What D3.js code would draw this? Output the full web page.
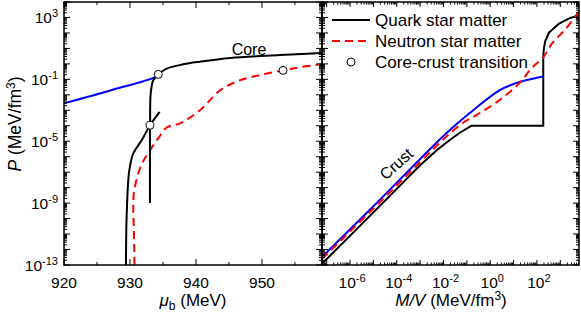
<!DOCTYPE html>
<html>
<head>
<meta charset="utf-8">
<script src="https://cdn.jsdelivr.net/npm/d3@7"></script>
<style>
  body { margin: 0; background: #fff; }
  svg { display: block; font-family: "Liberation Sans", Arial, sans-serif; }
  .curve { fill: none; stroke-width: 2; }
</style>
</head>
<body>
<svg id="chart" width="581" height="317"></svg>
<script>
//-----------------------------------------------------//

// Left panel: P vs baryon chemical potential (log10 P stored)
const muBlue = [920, 927, 933.8, 934.29];
const logPBlue = [-2.55, -1.72, -0.85, -0.68];

const muQsCore = [933.03, 933.03, 933.05, 933.14, 933.53, 934.29, 935.56, 938.08, 940.6, 945.2, 952.7, 959.1];
const logPQsCore = [-9.0, -5.0, -3.97, -1.92, -1.06, -0.68, -0.31, -0.03, 0.14, 0.38, 0.57, 0.71];

const muQsSteep = [929.39, 929.45, 929.55, 929.65, 929.9, 930.5, 931.77, 933.03, 934.5];
const logPQsSteep = [-13, -10.5, -9.2, -8.16, -6.87, -5.79, -4.94, -3.97, -3.1];

const muNs = [930.68, 930.6, 930.5, 930.6, 931.26, 932.0, 933.03, 934.3, 935.6, 937.58, 940.6, 943.64, 946.67, 950, 953.2, 956, 959.1];
const logPNs = [-13, -11, -9.3, -8.3, -7.08, -6.3, -5.58, -4.8, -4.10, -3.84, -3.0, -1.71, -1.06, -0.7, -0.42, -0.2, -0.03];

const muTransition = [934.29, 933.03, 953.2];
const logPTransition = [-0.68, -3.97, -0.42];

// Right panel: P vs M/V (log10 of both stored)
const lxQs = [-7.2, -5, -3, -2.29, -1.8, -1.3, -0.8, 2.27, 2.27, 2.29, 2.35, 2.52, 2.95, 3.38, 3.8];
const lpQs = [-12.92, -9.6, -6.55, -5.58, -5.0, -4.45, -4.0, -4.0, 0.3, 0.9, 1.45, 2.03, 2.61, 2.94, 3.15];

const lxBlue = [-7.2, -5, -3, -1.88, -0.89, 0.39, 1.0, 1.53, 2.0, 2.27];
const lpBlue = [-12.48, -9.2, -6.15, -4.48, -3.19, -1.71, -1.3, -1.06, -0.9, -0.81];

const lxNs = [-7.2, -5, -3, -1.88, -1.19, -0.46, 0.39, 1.24, 1.80, 2.27, 2.65, 3.25, 3.8];
const lpNs = [-12.6, -9.35, -6.35, -4.7, -3.84, -3.19, -2.35, -1.26, -0.23, 0.42, 1.32, 2.29, 3.4];

// Tick labels
const muTicks = [920, 930, 940, 950];
const pLabelExps = [-13, -9, -5, -1, 3];
const mvLabelExps = [-6, -4, -2, 0, 2];
const legendLabels = ["Quark star matter", "Neutron star matter", "Core-crust transition"];

//-----------------------------------------------------//

const svg = d3.select("#chart");
const plotTop = 2, plotBottom = 265;
const leftX0 = 64, midX = 322, rightX1 = 579;

let y = d3.scaleLog().domain([1e-13, 1e4]).range([plotBottom, plotTop]);
let xMu = d3.scaleLinear().domain([920, 959.1]).range([leftX0, midX]);
let xMv = d3.scaleLog().domain([Math.pow(10, -7.2), Math.pow(10, 3.8)]).range([midX, rightX1]);

const pow10 = v => Math.pow(10, v);

// clip each panel
const defs = svg.append("defs");
defs.append("clipPath").attr("id", "clipL").append("rect")
  .attr("x", leftX0).attr("y", plotTop).attr("width", midX - leftX0).attr("height", plotBottom - plotTop);
defs.append("clipPath").attr("id", "clipR").append("rect")
  .attr("x", midX).attr("y", plotTop).attr("width", rightX1 - midX).attr("height", plotBottom - plotTop);

function drawCurve(g, xs, ys, xScale, color, dash, xLog, curve)
{
  const pts = xs.map((v, i) => [xLog ? pow10(v) : v, pow10(ys[i])]);
  const path = g.append("path")
    .attr("class", "curve")
    .attr("stroke", color)
    .attr("d", d3.line().x(d => xScale(d[0])).y(d => y(d[1])).curve(curve || d3.curveLinear)(pts));
  if (dash) path.attr("stroke-dasharray", dash);
  return path;
}

const smooth = d3.curveCatmullRom.alpha(0.5);

// Left panel curves
const gL = svg.append("g").attr("clip-path", "url(#clipL)");
drawCurve(gL, muNs, logPNs, xMu, "#ff0000", "8,5", false, smooth);
drawCurve(gL, muBlue, logPBlue, xMu, "#0000ff", null, false, smooth);
drawCurve(gL, muQsSteep, logPQsSteep, xMu, "#000", null, false, smooth);
drawCurve(gL, muQsCore, logPQsCore, xMu, "#000", null, false, smooth);

gL.selectAll(".trans")
  .data(muTransition.map((m, i) => [m, pow10(logPTransition[i])]))
  .enter().append("circle")
  .attr("cx", d => xMu(d[0]))
  .attr("cy", d => y(d[1]))
  .attr("r", 4)
  .attr("fill", "#fff")
  .attr("stroke", "#000")
  .attr("stroke-width", 1);

// Right panel curves
const gR = svg.append("g").attr("clip-path", "url(#clipR)");
drawCurve(gR, lxQs, lpQs, xMv, "#000", null, true);
drawCurve(gR, lxBlue, lpBlue, xMv, "#0000ff", null, true, smooth);
drawCurve(gR, lxNs, lpNs, xMv, "#ff0000", "8,5", true, smooth);

// Frames
svg.append("rect").attr("x", leftX0).attr("y", plotTop).attr("width", midX - leftX0).attr("height", plotBottom - plotTop)
  .attr("fill", "none").attr("stroke", "#000").attr("stroke-width", 1.5);
svg.append("rect").attr("x", midX).attr("y", plotTop).attr("width", rightX1 - midX).attr("height", plotBottom - plotTop)
  .attr("fill", "none").attr("stroke", "#000").attr("stroke-width", 1.5);

// Ticks
const ticks = svg.append("g").attr("stroke", "#000").attr("stroke-width", 1);

function vTick(xPos, yPos, len) { // tick on a vertical edge, len sign gives direction
  ticks.append("line").attr("x1", xPos).attr("x2", xPos + len).attr("y1", yPos).attr("y2", yPos);
}
function hTick(xPos, yPos, len) {
  ticks.append("line").attr("x1", xPos).attr("x2", xPos).attr("y1", yPos).attr("y2", yPos + len);
}

// log y ticks on every vertical edge
for (let d = -13; d <= 4; d++) {
  for (let m = 1; m <= 9; m++) {
    const v = m * pow10(d);
    if (v < 1e-13 || v > 1e4) continue;
    const yy = y(v);
    const len = m === 1 ? 6 : 3;
    vTick(leftX0, yy, len);
    vTick(midX, yy, -len);
    vTick(midX, yy, len);
    vTick(rightX1, yy, -len);
  }
}

// left x ticks
for (let v = 920; v <= 955; v += 5) {
  const len = v % 10 === 0 ? 6 : 3;
  hTick(xMu(v), plotBottom, -len);
  hTick(xMu(v), plotTop, len);
}

// right x ticks
for (let d = -8; d <= 3; d++) {
  for (let m = 1; m <= 9; m++) {
    const v = m * pow10(d);
    if (v < xMv.domain()[0] || v > xMv.domain()[1]) continue;
    const len = m === 1 ? 5 : 2.5;
    hTick(xMv(v), plotBottom, -len);
    hTick(xMv(v), plotTop, len);
  }
}

// Tick labels
const labels = svg.append("g").attr("fill", "#000");

labels.selectAll(".muLabel")
  .data(muTicks)
  .enter().append("text")
  .attr("x", d => xMu(d))
  .attr("y", 288)
  .attr("text-anchor", "middle")
  .style("font-size", "15.5px")
  .text(d => d);

function powerLabel(xPos, yPos, exp, anchor)
{
  const t = labels.append("text")
    .attr("x", xPos).attr("y", yPos)
    .attr("text-anchor", anchor)
    .style("font-size", "15.5px");
  t.append("tspan").text("10");
  t.append("tspan").attr("dy", -6).style("font-size", "11px").text(exp < 0 ? "-" + (-exp) : exp);
}

pLabelExps.forEach(e => powerLabel(58, y(pow10(e)) + 5.5, e, "end"));
mvLabelExps.forEach(e => powerLabel(xMv(pow10(e)) + 2, 288, e, "middle"));

// Axis titles
const yTitle = svg.append("text")
  .attr("transform", "translate(21,124) rotate(-90)")
  .attr("text-anchor", "middle")
  .style("font-size", "17.5px");
yTitle.append("tspan").style("font-style", "italic").text("P");
yTitle.append("tspan").text(" (MeV/fm");
yTitle.append("tspan").attr("dy", -6).style("font-size", "12px").text("3");
yTitle.append("tspan").attr("dy", 6).text(")");

const xTitleL = svg.append("text")
  .attr("x", 193).attr("y", 306)
  .attr("text-anchor", "middle")
  .style("font-size", "17px");
xTitleL.append("tspan").style("font-style", "italic").text("μ");
xTitleL.append("tspan").attr("dy", 4).style("font-size", "12px").text("b");
xTitleL.append("tspan").attr("dy", -4).text(" (MeV)");

const xTitleR = svg.append("text")
  .attr("x", 451).attr("y", 306)
  .attr("text-anchor", "middle")
  .style("font-size", "17px");
xTitleR.append("tspan").style("font-style", "italic").text("M/V");
xTitleR.append("tspan").text(" (MeV/fm");
xTitleR.append("tspan").attr("dy", -6).style("font-size", "12px").text("3");
xTitleR.append("tspan").attr("dy", 6).text(")");

// In-plot annotations
svg.append("text").attr("x", 249).attr("y", 55).attr("text-anchor", "middle")
  .style("font-size", "16px").text("Core");
svg.append("text").attr("transform", "translate(400,168) rotate(-42)")
  .attr("text-anchor", "middle").style("font-size", "16px").text("Crust");

// Legend
const legend = svg.append("g");
const legendY = [20, 41, 62];
legend.append("line").attr("x1", 332).attr("x2", 370).attr("y1", legendY[0]).attr("y2", legendY[0])
  .attr("stroke", "#000").attr("stroke-width", 2);
legend.append("line").attr("x1", 332).attr("x2", 370).attr("y1", legendY[1]).attr("y2", legendY[1])
  .attr("stroke", "#ff0000").attr("stroke-width", 2).attr("stroke-dasharray", "8,5");
legend.append("circle").attr("cx", 351).attr("cy", legendY[2]).attr("r", 4)
  .attr("fill", "#fff").attr("stroke", "#000");
legend.selectAll(".legText")
  .data(legendLabels)
  .enter().append("text")
  .attr("x", 375)
  .attr("y", (d, i) => legendY[i] + 6)
  .style("font-size", "17px")
  .text(d => d);
</script>
</body>
</html>
